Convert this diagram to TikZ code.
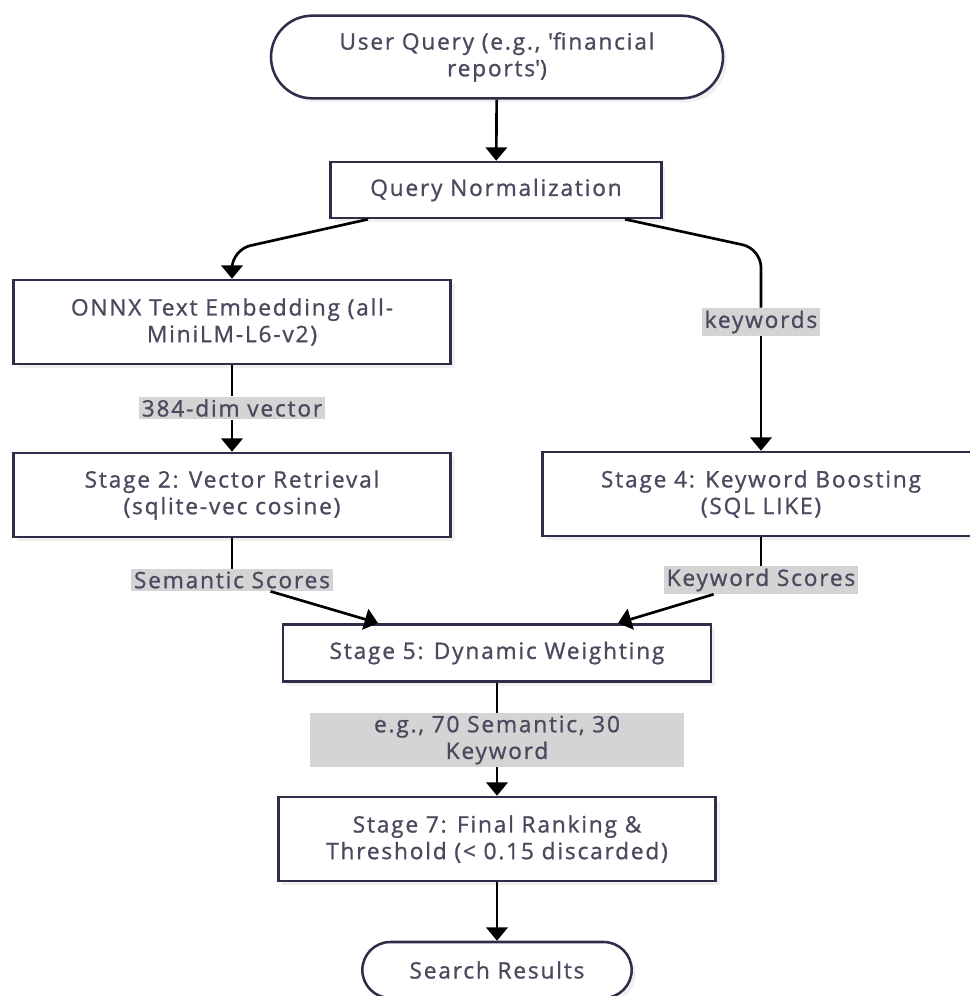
\documentclass[tikz,border=0pt]{standalone}
\usepackage{fontspec}
\setmainfont[LetterSpace=8, FakeBold=1]{Open Sans}
\usepackage{tikz}
\usetikzlibrary{arrows.meta, calc, shadows}

\definecolor{edgeblue}{HTML}{2E2E48}
\definecolor{txtgray}{HTML}{4A4A5E}
\definecolor{lblgray}{HTML}{D4D4D4}

\begin{document}
\begin{tikzpicture}[x=0.75pt, y=-0.75pt,
    font=\fontsize{17}{20}\selectfont, text=txtgray,
    stage/.style={draw=edgeblue, line width=1.9pt, fill=white, align=center,
      drop shadow={opacity=0.12, shadow xshift=3pt, shadow yshift=-3pt}},
    pill/.style={stage, rounded corners=#1},
    lbl/.style={fill=lblgray, inner sep=2pt, align=center},
    flow/.style={line width=2pt, -{Triangle[width=16pt, length=10pt]}}]
  \useasboundingbox (0,0) rectangle (970,996);
  % start and end pills
  \node[pill=31pt, minimum width=339pt, minimum height=62pt] (uq) at (497,57)
    {User Query (e.g., \textquotesingle financial\\reports\textquotesingle)};
  \node[pill=21pt, minimum width=202pt, minimum height=42pt] (sr) at (497,970)
    {Search Results};
  % stages
  \node[stage, minimum width=248pt, minimum height=42pt] (qn) at (496,190)
    {Query Normalization};
  \node[stage, minimum width=328pt, minimum height=63pt] (onnx) at (232,322)
    {ONNX Text Embedding (all-\\MiniLM-L6-v2)};
  \node[stage, minimum width=328pt, minimum height=63pt] (s2) at (232,495)
    {Stage 2: Vector Retrieval\\(sqlite-vec cosine)};
  \node[stage, minimum width=328pt, minimum height=63pt] (s4) at (761,494)
    {Stage 4: Keyword Boosting\\(SQL LIKE)};
  \node[stage, minimum width=321pt, minimum height=43pt] (s5) at (497,653)
    {Stage 5: Dynamic Weighting};
  \node[stage, minimum width=328pt, minimum height=63pt] (s7) at (497,839)
    {Stage 7: Final Ranking \&\\Threshold (< 0.15 discarded)};
  % edge labels
  \node[lbl] (lvec) at (232,408) {384-dim vector};
  \node[lbl] (lkw) at (761,322) {keywords};
  \node[lbl] (lsem) at (232,580) {Semantic Scores};
  \node[lbl] (lkws) at (761,580) {Keyword Scores};
  \node[lbl, minimum width=281pt, minimum height=40pt] (lwt) at (497,740)
    {e.g., 70 Semantic, 30\\Keyword};
  % bends of the two branches
  \coordinate (bendL) at ($(onnx.north)+(0,-29)$);
  \coordinate (bendR) at ($(s4.north)+(0,-202)$);
  % connectors
  \draw[flow] (uq) -- (qn);
  \draw[flow, rounded corners=14pt] ($(qn.south)+(-128,0)$) -- (bendL) -- (onnx.north);
  \draw[line width=2pt, rounded corners=14pt] ($(qn.south)+(129,0)$) -- (bendR) -- (lkw);
  \draw[flow] (lkw) -- (s4);
  \draw[line width=2pt] (onnx) -- (lvec);
  \draw[flow] (lvec) -- (s2);
  \draw[line width=2pt] (s2) -- (lsem);
  \draw[flow] (lsem) -- ($(s5.north)+(-119,0)$);
  \draw[line width=2pt] (s4) -- (lkws);
  \draw[flow] (lkws) -- ($(s5.north)+(121,0)$);
  \draw[line width=2pt] (s5) -- (lwt);
  \draw[flow] (lwt) -- (s7);
  \draw[flow] (s7) -- (sr);
\end{tikzpicture}
\end{document}
